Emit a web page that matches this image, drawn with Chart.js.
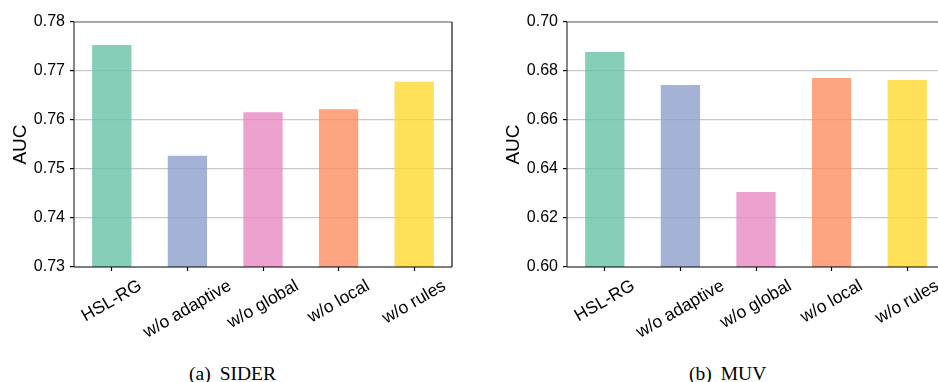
<!DOCTYPE html>
<html>
<head>
<meta charset="utf-8">
<script src="https://cdn.jsdelivr.net/npm/chart.js@4.4.1/dist/chart.umd.min.js"></script>
<style>
  body { margin: 0; width: 938px; height: 382px; overflow: hidden; background: #fff; position: relative; }
  canvas { position: absolute; top: 0; }
  #siderChart { left: 0; }
  #muvChart { left: 493px; }
  .caption {
    position: absolute; top: 364px; line-height: 19px; white-space: nowrap;
    font-family: "Liberation Serif", "Times New Roman", serif; font-size: 19.5px; color: #000;
  }
  .caption span { margin-left: 9px; }
</style>
</head>
<body>
<canvas id="siderChart" width="470" height="345"></canvas>
<canvas id="muvChart" width="470" height="345"></canvas>
<div class="caption" style="left:189px">(a)<span>SIDER</span></div>
<div class="caption" style="left:689px">(b)<span>MUV</span></div>

<script>
// ablation results
const categories = ["HSL-RG", "w/o adaptive", "w/o global", "w/o local", "w/o rules"];
const siderAuc = [0.7753, 0.7527, 0.7616, 0.7622, 0.7678];
const muvAuc = [0.6878, 0.6743, 0.6306, 0.6771, 0.6763];
const siderTicks = [0.73, 0.74, 0.75, 0.76, 0.77, 0.78];
const muvTicks = [0.60, 0.62, 0.64, 0.66, 0.68, 0.70];

// Set2 palette, slightly faded
const barColors = [
  "rgba(102, 194, 165, 0.8)",
  "rgba(141, 160, 203, 0.8)",
  "rgba(231, 138, 195, 0.8)",
  "rgba(252, 141, 98, 0.8)",
  "rgba(255, 217, 47, 0.8)"
];

const FONT = '"Liberation Sans", Arial, sans-serif';

// rotated x labels, centred under each tick like matplotlib
const rotatedLabels = {
  id: "rotatedLabels",
  afterDraw(chart) {
    const ctx = chart.ctx;
    const xs = chart.scales.x;
    const a = Math.PI / 6;
    ctx.save();
    ctx.font = "17.5px " + FONT;
    ctx.fillStyle = "#000";
    ctx.textAlign = "center";
    ctx.textBaseline = "middle";
    categories.forEach((label, i) => {
      const x = xs.getPixelForTick(i);
      const w = ctx.measureText(label).width;
      const cy = xs.top + 12 + (w * Math.sin(a) + 13 * Math.cos(a)) / 2;
      ctx.save();
      ctx.translate(x, cy);
      ctx.rotate(-a);
      ctx.fillText(label, 0, 0);
      ctx.restore();
    });
    ctx.restore();
  }
};

// axes box
const frame = {
  id: "frame",
  afterDraw(chart) {
    const { left, right, top, bottom } = chart.chartArea;
    const ctx = chart.ctx;
    ctx.save();
    ctx.lineWidth = 1.2;
    const line = (x1, y1, x2, y2, c) => {
      ctx.strokeStyle = c;
      ctx.beginPath();
      ctx.moveTo(x1, y1);
      ctx.lineTo(x2, y2);
      ctx.stroke();
    };
    line(left, top, right, top, "#555");
    line(left, top, left, bottom, "#333");
    line(right, top, right, bottom, "#111");
    line(left, bottom, right, bottom, "#000");
    ctx.restore();
  }
};

function makeChart(id, values, ticks) {
  const yMin = ticks[0];
  const yMax = ticks[ticks.length - 1];

  const config = {
    type: "bar",
    data: {
      labels: categories,
      datasets: [
        {
          data: values,
          backgroundColor: barColors,
          borderWidth: 0,
          barPercentage: 0.52,
          categoryPercentage: 1.0
        }
      ]
    },
    options: {
      responsive: false,
      animation: false,
      devicePixelRatio: 1,
      layout: { padding: { top: 22, right: 18, left: 0, bottom: 0 } },
      plugins: { legend: { display: false }, tooltip: { enabled: false } },
      scales: {
        x: {
          border: { display: false },
          grid: {
            offset: false,
            drawOnChartArea: false,
            drawTicks: true,
            tickLength: 4,
            tickColor: "#000",
            tickWidth: 1.2
          },
          ticks: { display: false, autoSkip: false },
          afterFit(scale) {
            scale.height = 78;
          }
        },
        y: {
          min: yMin,
          max: yMax,
          border: { display: false },
          grid: {
            color: (c) =>
              c.tick && (c.tick.value === yMin || c.tick.value === yMax) ? "rgba(0,0,0,0)" : "#c8c8c8",
            lineWidth: 1.2,
            drawTicks: true,
            tickLength: 4,
            tickColor: "#000",
            tickWidth: 1.2
          },
          ticks: {
            color: "#000",
            padding: 5,
            font: { family: FONT, size: 16 },
            callback: (v) => Number(v).toFixed(2)
          },
          afterBuildTicks(scale) {
            scale.ticks = ticks.map((v) => ({ value: v }));
          },
          title: {
            display: true,
            text: "AUC",
            color: "#000",
            font: { family: FONT, size: 19 },
            padding: { top: 9, bottom: 0 }
          },
          afterFit(scale) {
            scale.width = 74;
          }
        }
      }
    },
    plugins: [rotatedLabels, frame]
  };

  return new Chart(document.getElementById(id), config);
}

makeChart("siderChart", siderAuc, siderTicks);
makeChart("muvChart", muvAuc, muvTicks);
</script>
</body>
</html>
